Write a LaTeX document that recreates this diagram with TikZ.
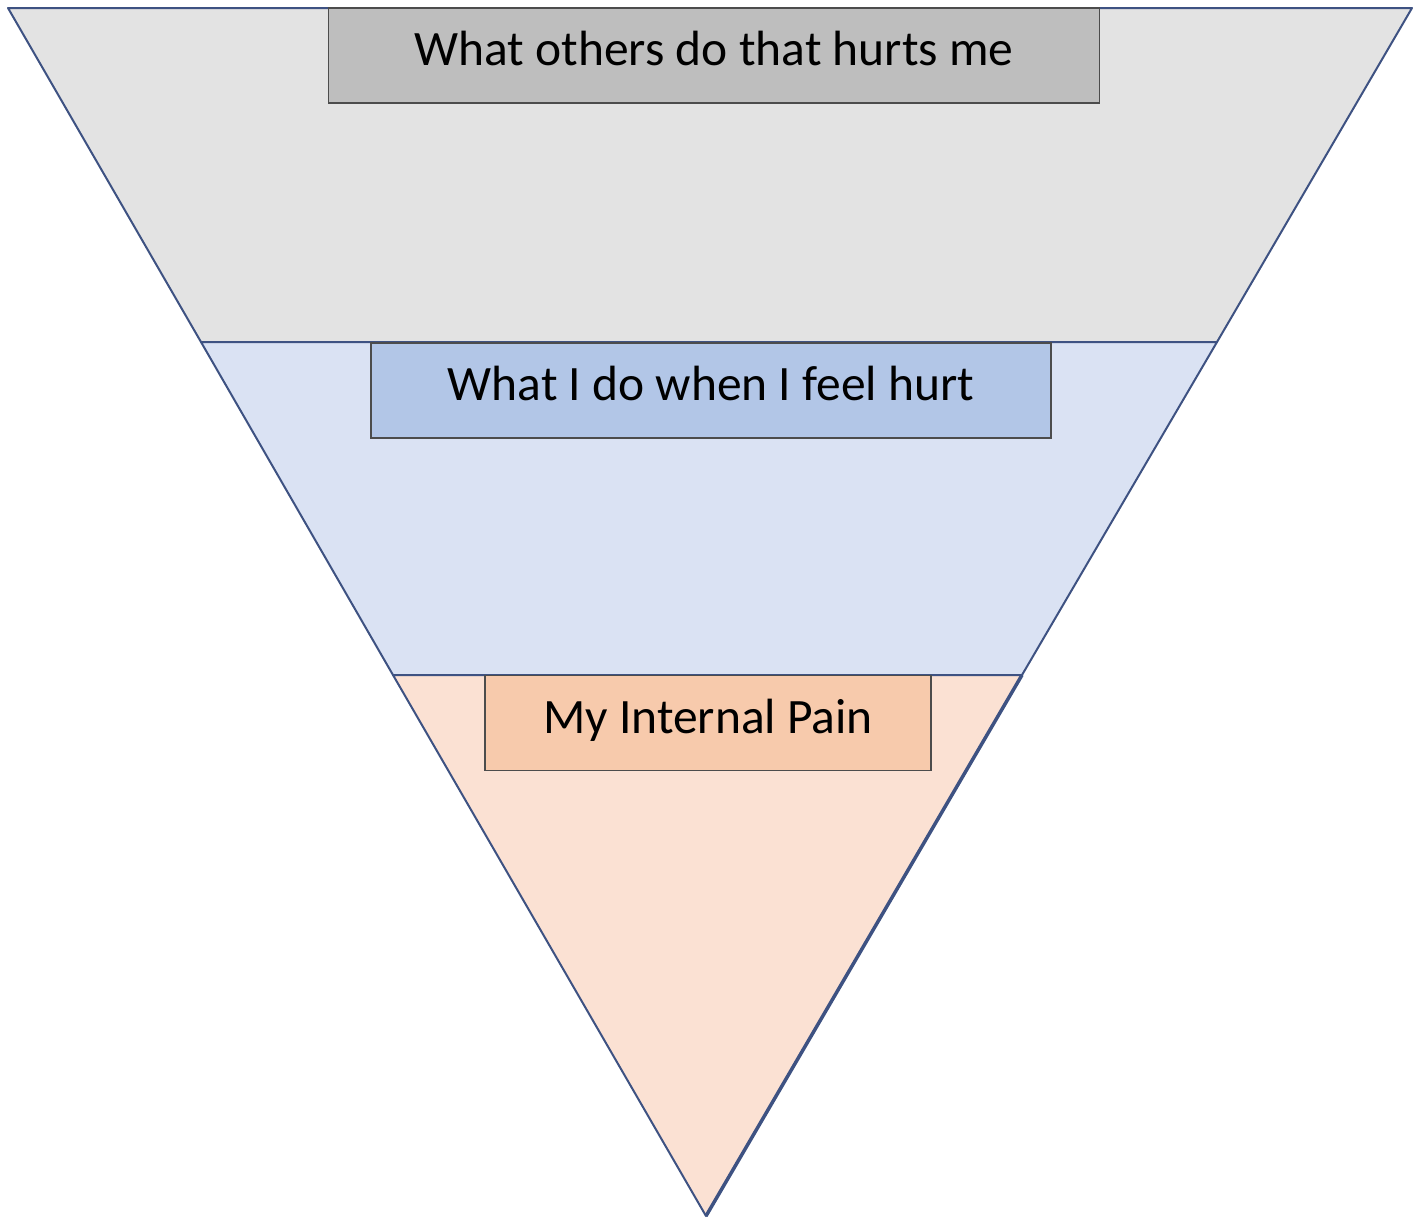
\documentclass[tikz,border=0pt]{standalone}
\usepackage{fontspec}
\setmainfont{Carlito}
\usepackage{tikz}
\usetikzlibrary{positioning}

\definecolor{edgeblue}{HTML}{3E5282}
\definecolor{greyband}{HTML}{E3E3E3}
\definecolor{greybox}{HTML}{BEBEBE}
\definecolor{blueband}{HTML}{DAE2F3}
\definecolor{bluebox}{HTML}{B2C6E7}
\definecolor{peachband}{HTML}{FBE1D3}
\definecolor{peachbox}{HTML}{F7CAAC}

\tikzset{
  band/.style={draw=edgeblue, line width=2pt, line join=round},
  label/.style={draw=black!70, line width=1.5pt, inner sep=0pt,
    minimum height=95pt, text height=35pt, text depth=15pt,
    font=\fontsize{49.5}{58}\selectfont}
}

\begin{document}
\begin{tikzpicture}[x=1pt, y=-1pt]
  \useasboundingbox (0,0) rectangle (1420,1218);

  % Top band
  \draw[band, fill=greyband] (8,8) -- (1412,8) -- (1217,342) -- (201,342) -- cycle;
  % Middle band
  \draw[band, fill=blueband] (201,342) -- (1217,342) -- (1022,675) -- (393,675) -- cycle;
  % Bottom band
  \draw[band, fill=peachband] (393,675) -- (1022,675) -- (706,1216) -- cycle;
  \draw[edgeblue, line width=3.5pt] (1022,675) -- (706,1216);

  % Labels
  \node[label, fill=greybox, minimum width=771pt] (others) at (714,55.5) {What others do that hurts me};
  \node[label, fill=bluebox, minimum width=680pt] (mine) at (711,390.5) {What I do when I feel hurt};
  \node[label, fill=peachbox, minimum width=446pt] (pain) at (708,723) {My Internal Pain};
\end{tikzpicture}
\end{document}
